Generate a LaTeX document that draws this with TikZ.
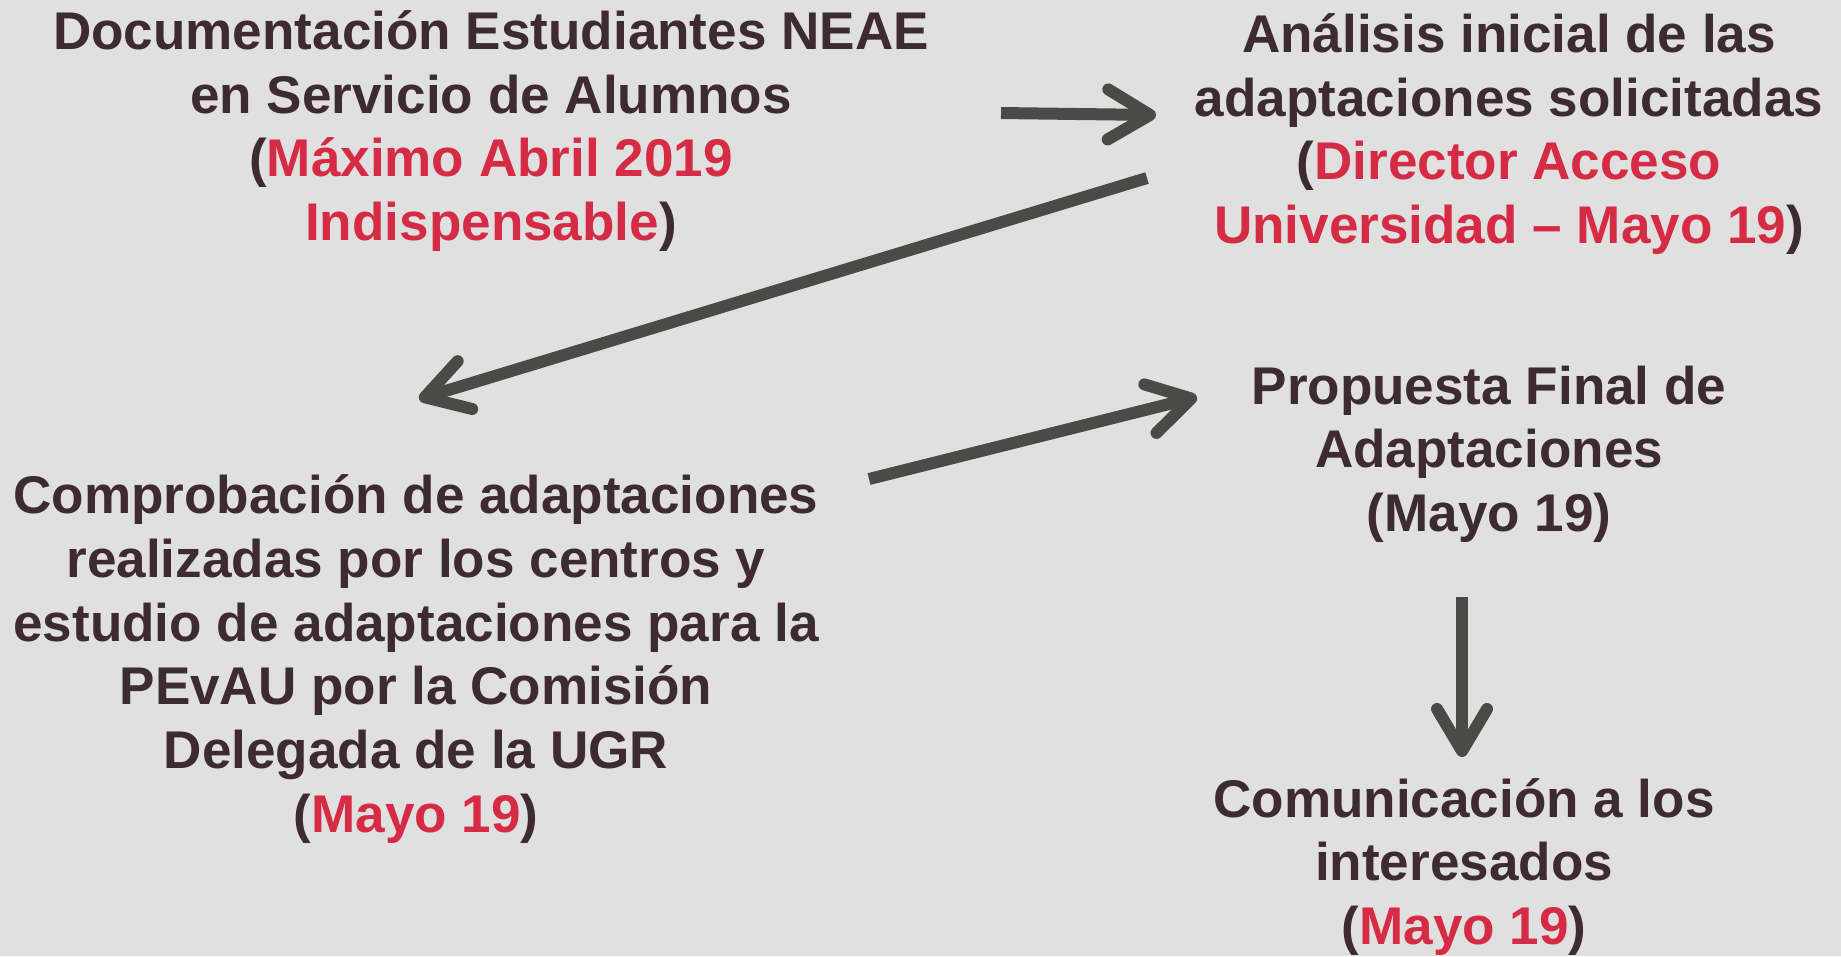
\documentclass[tikz,border=0pt]{standalone}
\usepackage{fontspec}
\setmainfont{Liberation Sans}
\usetikzlibrary{arrows.meta}
\definecolor{bgray}{HTML}{E0E0E0}
\definecolor{tdark}{HTML}{3D2B31}
\definecolor{tred}{HTML}{D52B44}
\definecolor{adark}{HTML}{4A4B46}

\begin{document}
\begin{tikzpicture}[
            x=0.1mm, y=-0.1mm,
            step node/.style={align=center,inner sep=0pt,text=tdark,font=\fontsize{15.1}{18.1}\selectfont\bfseries},
            every edge/.style={draw,adark,line width=1.2mm,-{Straight Barb[length=4.2mm,width=5mm,round]}},
        ]
            \fill[bgray] (0,0) rectangle (1841,956);
            \useasboundingbox (0,0) rectangle (1841,956);

            \node[step node] (doc) at (491,131) {Documentación Estudiantes NEAE\\en Servicio de Alumnos\\(\textcolor{tred}{Máximo Abril 2019}\\\textcolor{tred}{Indispensable})};
            \node[step node] (analisis) at (1509,134) {Análisis inicial de las\\adaptaciones solicitadas\\(\textcolor{tred}{Director Acceso}\\\textcolor{tred}{Universidad – Mayo 19})};
            \node[step node] (comprob) at (416,659) {Comprobación de adaptaciones\\realizadas por los centros y\\estudio de adaptaciones para la\\PEvAU por la Comisión\\Delegada de la UGR\\(\textcolor{tred}{Mayo 19})};
            \node[step node] (propuesta) at (1489,454) {Propuesta Final de\\Adaptaciones\\(Mayo 19)};
            \node[step node] (comunic) at (1464,867) {Comunicación a los\\interesados\\(\textcolor{tred}{Mayo 19})};

            \coordinate (doc out) at (1001,113);
            \coordinate (analisis in) at (1156,115);
            \coordinate (analisis out) at (1147,178);
            \coordinate (comprob in) at (419,399);
            \coordinate (comprob out) at (869,479);
            \coordinate (propuesta in) at (1197,397);
            \coordinate (propuesta out) at (1462,597);
            \coordinate (comunic in) at (1462,757);

            \path (doc out) edge (analisis in);
            \path (analisis out) edge (comprob in);
            \path (comprob out) edge (propuesta in);
            \path (propuesta out) edge (comunic in);
        \end{tikzpicture}
\end{document}
